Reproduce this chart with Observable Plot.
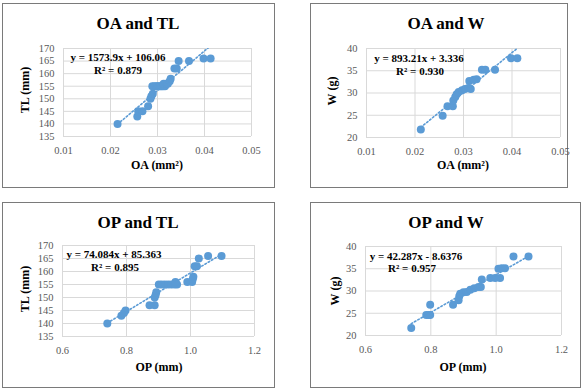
<!DOCTYPE html>
<html>
<head>
<meta charset="utf-8">
<script src="https://cdn.jsdelivr.net/npm/d3@7"></script>
<script src="https://cdn.jsdelivr.net/npm/@observablehq/plot@0.6"></script>
<style>
  html, body { margin: 0; padding: 0; background: #fff; }
  #c { position: relative; width: 586px; height: 391px; background: #fff; overflow: hidden; font-family: "Liberation Serif", "Times New Roman", serif; }
  .box { position: absolute; border: 1px solid #7a7a7a; box-sizing: border-box; }
  .lbl { position: absolute; white-space: nowrap; transform: translate(-50%, -50%); color: #000; font-weight: bold; line-height: 1; }
  #c svg { position: absolute; left: 0; top: 0; }
  #c svg, #c svg text { font-family: "Liberation Serif", "Times New Roman", serif !important; font-size: 10.5px; }
</style>
</head>
<body>
<div id="c"></div>
<script>
// ---- data ----
const titles = ["OA and TL", "OA and W", "OP and TL", "OP and W"];
const xLabels = ["OA (mm²)", "OA (mm²)", "OP (mm)", "OP (mm)"];
const yLabels = ["TL (mm)", "W (g)", "TL (mm)", "W (g)"];
const equations = ["y = 1573.9x + 106.06", "y = 893.21x + 3.336", "y = 74.084x + 85.363", "y = 42.287x - 8.6376"];
const r2Labels = ["R² = 0.879", "R² = 0.930", "R² = 0.895", "R² = 0.957"];
const slopes = [1573.9, 893.21, 74.084, 42.287];
const intercepts = [106.06, 3.336, 85.363, -8.6376];

const oaTicks = [0.01, 0.02, 0.03, 0.04, 0.05];
const opTicks = [0.6, 0.8, 1.0, 1.2];
const tlTicks = [135, 140, 145, 150, 155, 160, 165, 170];
const wTicks = [20, 25, 30, 35, 40];

// Panel A: OA vs TL
const oaA = [0.0215, 0.0257, 0.0259, 0.0268, 0.0280, 0.0285, 0.0287, 0.0290, 0.0289, 0.0293, 0.0297, 0.0300, 0.0303, 0.0306, 0.0309, 0.0312, 0.0316, 0.0313, 0.0318, 0.0322, 0.0326, 0.0328, 0.0336, 0.0341, 0.0345, 0.0367, 0.0398, 0.0413];
const tlA = [140, 143, 145, 145, 147, 150, 151, 152, 155, 155, 155, 155, 155, 155, 155, 155, 155, 156, 156, 156, 157, 158, 162, 162, 165, 165, 166, 166];
// Panel B: OA vs W
const oaB = [0.0212, 0.0257, 0.0267, 0.0278, 0.0279, 0.0283, 0.0286, 0.0290, 0.0297, 0.0303, 0.0310, 0.0315, 0.0312, 0.0321, 0.0327, 0.0338, 0.0345, 0.0365, 0.0398, 0.0411];
const wB = [21.8, 24.9, 27.0, 27.0, 28.3, 29.1, 29.7, 30.2, 30.6, 30.9, 31.1, 30.9, 32.7, 33.0, 33.1, 35.2, 35.2, 35.2, 37.8, 37.8];
// Panel C: OP vs TL
const opC = [0.740, 0.784, 0.792, 0.797, 0.872, 0.888, 0.888, 0.891, 0.893, 0.901, 0.910, 0.920, 0.930, 0.940, 0.950, 0.958, 0.953, 0.990, 1.005, 1.007, 1.009, 1.013, 1.020, 1.026, 1.055, 1.097];
const tlC = [140, 143, 144, 145, 147, 147, 150, 151, 152, 155, 155, 155, 155, 155, 155, 155, 156, 156, 156, 157, 158, 162, 162, 165, 166, 166];
// Panel D: OP vs W
const opD = [0.740, 0.786, 0.793, 0.798, 0.798, 0.868, 0.885, 0.887, 0.890, 0.900, 0.910, 0.921, 0.933, 0.946, 0.953, 0.956, 0.982, 0.997, 1.012, 1.007, 1.017, 1.027, 1.053, 1.099];
const wD = [21.7, 24.6, 24.6, 24.6, 26.9, 26.9, 27.9, 28.8, 29.4, 29.7, 29.8, 30.3, 30.6, 30.9, 30.9, 32.6, 32.9, 32.9, 32.9, 35.0, 35.1, 35.1, 37.75, 37.75];

const xsAll = [oaA, oaB, opC, opD];
const ysAll = [tlA, wB, tlC, wD];
const xTicksAll = [oaTicks, oaTicks, opTicks, opTicks];
const yTicksAll = [tlTicks, wTicks, tlTicks, wTicks];
const xFormats = [".2f", ".2f", ".1f", ".1f"];

// ---- layout (page coordinates) ----
const boxes = [[2, 3, 275, 188], [310, 3, 568, 188], [2, 202, 275, 388], [310, 202, 581, 388]];
const frames = [[63, 48, 251, 136], [366, 48, 560, 137], [62, 245, 254, 336], [365, 246, 561, 335]];
const titlePos = [[138, 23], [446, 23], [138, 222], [446, 222]];
const yLabelPos = [[25, 90], [332, 91], [25, 289], [335, 291]];
const xLabelPos = [[157, 165], [463, 165], [159, 367], [463, 367]];
const eqPos = [[118, 57], [419, 58], [114, 254], [416, 256]];
const r2Pos = [[118, 70], [420, 71], [115, 267], [412, 268]];

const W = 586, H = 391;
const blue = "#5B9BD5";
const c = document.getElementById("c");

function addLabel(text, pos, size, rotate) {
  const d = document.createElement("div");
  d.className = "lbl";
  d.textContent = text;
  d.style.left = pos[0] + "px";
  d.style.top = pos[1] + "px";
  d.style.fontSize = size + "px";
  if (rotate) d.style.transform = "translate(-50%, -50%) rotate(-90deg)";
  c.appendChild(d);
}

for (let i = 0; i < 4; i++) {
  const b = boxes[i];
  const box = document.createElement("div");
  box.className = "box";
  box.style.left = b[0] + "px";
  box.style.top = b[1] + "px";
  box.style.width = (b[2] - b[0]) + "px";
  box.style.height = (b[3] - b[1]) + "px";
  c.appendChild(box);
}

for (let i = 0; i < 4; i++) {
  const f = frames[i];
  const xs = xsAll[i], ys = ysAll[i];
  const data = xs.map((x, k) => ({x, y: ys[k]}));
  const xt = xTicksAll[i], yt = yTicksAll[i];
  const xmin = d3.min(xs), xmax = d3.max(xs);
  const m = slopes[i], b0 = intercepts[i];
  const trend = [{x: xmin}, {x: xmax}];
  const p = Plot.plot({
    width: W, height: H,
    marginLeft: f[0], marginTop: f[1], marginRight: W - f[2], marginBottom: H - f[3],
    style: {background: "transparent", fontFamily: "Liberation Serif", fontSize: "10.5px", color: "#595959"},
    x: {domain: [xt[0], xt[xt.length - 1]]},
    y: {domain: [yt[0], yt[yt.length - 1]]},
    marks: [
      Plot.gridX(xt, {stroke: "#d9d9d9", strokeOpacity: 1, strokeWidth: 1}),
      Plot.gridY(yt, {stroke: "#d9d9d9", strokeOpacity: 1, strokeWidth: 1}),
      Plot.axisX({ticks: xt, tickSize: 0, tickPadding: 10, tickFormat: d3.format(xFormats[i]), label: null, fill: "#595959"}),
      Plot.axisY({ticks: yt, tickSize: 0, tickPadding: 9, tickFormat: d3.format("d"), label: null, fill: "#595959"}),
      Plot.dot(data, {x: "x", y: "y", r: 4, fill: blue, stroke: "none"}),
      Plot.line(trend, {x: "x", y: d => m * d.x + b0, stroke: blue, strokeWidth: 1.6, strokeDasharray: "1.6,2.2", clip: true})
    ]
  });
  c.appendChild(p);
  addLabel(titles[i], titlePos[i], 17, false);
  addLabel(yLabels[i], yLabelPos[i], 12, true);
  addLabel(xLabels[i], xLabelPos[i], 12, false);
  addLabel(equations[i], eqPos[i], 11, false);
  addLabel(r2Labels[i], r2Pos[i], 11, false);
}
</script>
</body>
</html>
